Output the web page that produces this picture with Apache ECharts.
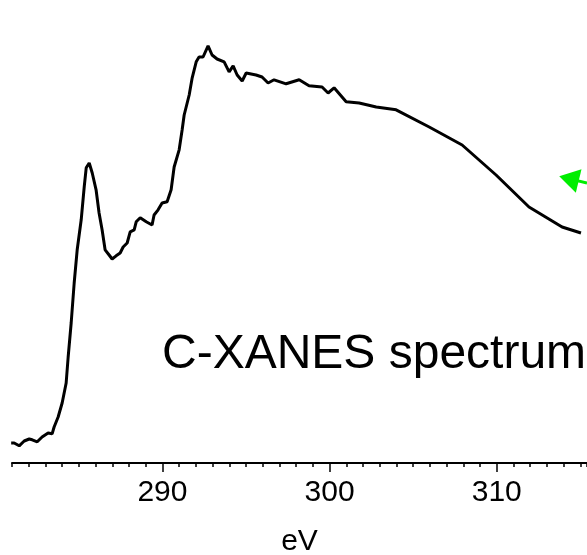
<!DOCTYPE html>
<html>
<head>
<meta charset="utf-8">
<script src="https://cdn.jsdelivr.net/npm/echarts@6/dist/echarts.min.js"></script>
<style>
  html, body { margin: 0; padding: 0; background: #fff; }
  #chart { width: 587px; height: 555px; }
</style>
</head>
<body>
<div id="chart"></div>
<script>
// photon energy (eV) and normalised absorption (a.u.)
const energy = [
  280.95, 281.13, 281.43, 281.73, 282.03, 282.21, 282.51, 282.80, 283.16, 283.40,
  283.52, 283.76, 284.00, 284.24, 284.36, 284.54, 284.72, 284.90, 285.14, 285.32,
  285.44, 285.62, 285.80, 286.03, 286.21, 286.39, 286.57, 286.81, 286.99, 287.23,
  287.47, 287.65, 287.89, 288.07, 288.31, 288.43, 288.67, 289.03, 289.38, 289.50,
  289.74, 289.98, 290.28, 290.52, 290.70, 291.00, 291.18, 291.30, 291.60, 291.78,
  292.02, 292.19, 292.43, 292.73, 292.97, 293.27, 293.69, 293.99, 294.23, 294.47,
  294.77, 295.01, 295.60, 295.96, 296.32, 296.68, 297.40, 298.18, 298.77, 299.55,
  299.91, 300.27, 300.99, 301.77, 302.79, 303.98, 305.96, 307.93, 309.96, 311.93,
  313.91, 315.04
];
const absorption = [
  0.050, 0.050, 0.043, 0.055, 0.060, 0.058, 0.053, 0.065, 0.075, 0.073,
  0.090, 0.115, 0.150, 0.200, 0.265, 0.350, 0.450, 0.533, 0.608, 0.690,
  0.738, 0.750, 0.725, 0.683, 0.625, 0.583, 0.533, 0.520, 0.510, 0.518,
  0.525, 0.540, 0.550, 0.578, 0.583, 0.603, 0.613, 0.603, 0.595, 0.620,
  0.633, 0.650, 0.653, 0.683, 0.740, 0.783, 0.833, 0.870, 0.920, 0.963,
  1.003, 1.015, 1.015, 1.043, 1.020, 1.010, 1.003, 0.978, 0.993, 0.970,
  0.955, 0.975, 0.970, 0.965, 0.950, 0.958, 0.948, 0.958, 0.943, 0.940,
  0.925, 0.938, 0.903, 0.900, 0.890, 0.883, 0.840, 0.795, 0.720, 0.640,
  0.590, 0.575
];
const majorTicks = [290, 300, 310];
// green pointer arrow (tail -> head centre), in data units
const arrowTail = [315.4, 0.70];
const arrowHead = [314.32, 0.711];

const seriesData = energy.map((e, i) => [e, absorption[i]]);
const font = '"Liberation Sans", Arial, sans-serif';

let chart = echarts.init(document.getElementById('chart'));
chart.setOption({
  animation: false,
  backgroundColor: '#fff',
  title: {
    text: 'C-XANES spectrum',
    left: 162,
    top: 331,
    padding: 0,
    textStyle: { color: '#000', fontFamily: font, fontWeight: 'normal', fontSize: 48 }
  },
  grid: { left: 12, right: 0, top: 0, bottom: 92, containLabel: false, outerBoundsMode: 'none' },
  xAxis: [{
    type: 'value',
    min: 281,
    max: 315.4,
    interval: 1,
    axisLine: { lineStyle: { color: '#000', width: 2 } },
    axisTick: { length: 4, lineStyle: { color: '#000', width: 1.5 } },
    axisLabel: { show: false },
    splitLine: { show: false },
    name: 'eV',
    nameLocation: 'middle',
    nameGap: 64,
    nameTextStyle: { color: '#000', fontFamily: font, fontSize: 30 }
  }, {
    type: 'value',
    position: 'bottom',
    min: 281,
    max: 315.4,
    axisLine: { show: false },
    axisTick: { length: 9, customValues: majorTicks, lineStyle: { color: '#000', width: 1.5 } },
    axisLabel: { customValues: majorTicks, margin: 15, color: '#000', fontFamily: font, fontSize: 30 },
    splitLine: { show: false }
  }],
  yAxis: {
    type: 'value',
    min: 0,
    max: 1.1575,
    show: false
  },
  series: [{
    type: 'line',
    data: seriesData,
    showSymbol: false,
    lineStyle: { color: '#000', width: 3 },
    silent: true
  }, {
    type: 'line',
    data: [],
    silent: true,
    markLine: {
      silent: true,
      symbol: ['none', 'triangle'],
      symbolSize: [24, 20],
      label: { show: false },
      lineStyle: { color: '#00ee00', width: 3, type: 'solid' },
      data: [[{ coord: arrowTail }, { coord: arrowHead }]]
    }
  }]
});
window.addEventListener('resize', function () {
  chart.resize();
});
</script>
</body>
</html>
